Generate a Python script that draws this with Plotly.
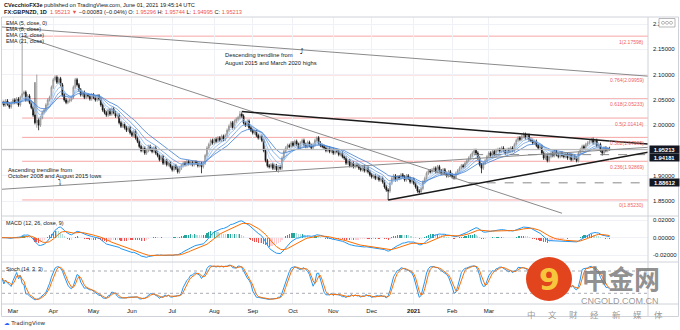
import numpy as np
import pandas as pd
import plotly.graph_objects as go

W, H = 680, 330


def px(x):
    return x / W


def py(y):
    return 1 - y / H


# ---------------------------------------------------------------- data
dates = pd.bdate_range("2020-02-21", "2021-06-01")

closes = [
    # Feb 2020
    2.045, 2.040, 2.048, 2.042, 2.036, 2.044,
    # Mar 2020
    2.050, 2.045, 2.052, 2.040, 2.055, 2.062, 2.065, 2.050, 2.058, 2.045,
    2.035, 2.020, 2.005, 2.010, 2.000, 2.015, 2.025, 2.030, 2.040, 2.050,
    2.055, 2.075,
    # Apr 2020
    2.090, 2.095, 2.085, 2.092, 2.080, 2.060, 2.050, 2.045, 2.048, 2.050,
    2.055, 2.075, 2.090, 2.080, 2.070, 2.060, 2.065, 2.055, 2.060, 2.058,
    2.052, 2.060,
    # May 2020
    2.055, 2.050, 2.058, 2.052, 2.040, 2.030, 2.025, 2.020, 2.030, 2.022,
    2.032, 2.025, 2.018, 2.020, 2.005, 1.998, 2.002, 1.995, 1.990, 1.995,
    1.985,
    # Jun 2020
    1.980, 1.988, 1.975, 1.968, 1.958, 1.950, 1.955, 1.945, 1.950, 1.958,
    1.952, 1.948, 1.955, 1.945, 1.940, 1.932, 1.938, 1.925, 1.930, 1.922,
    1.925, 1.918,
    # Jul 2020
    1.912, 1.920, 1.915, 1.908, 1.915, 1.920, 1.925, 1.922, 1.928, 1.924,
    1.926, 1.922, 1.927, 1.925, 1.920, 1.924, 1.918, 1.925, 1.940, 1.955,
    1.962, 1.970, 1.965,
    # Aug 2020
    1.972, 1.968, 1.975, 1.970, 1.978, 1.972, 1.980, 1.990, 1.998, 2.005,
    1.995, 2.008, 2.012, 2.015, 2.022, 2.018, 2.005, 2.000, 2.008, 1.995,
    1.990,
    # Sep 2020
    1.985, 1.988, 1.980, 1.975, 1.978, 1.970, 1.950, 1.930, 1.920, 1.918,
    1.922, 1.915, 1.920, 1.912, 1.918, 1.915, 1.935, 1.948, 1.955, 1.960,
    1.958, 1.965,
    # Oct 2020
    1.960, 1.968, 1.962, 1.955, 1.965, 1.970, 1.962, 1.958, 1.966, 1.960,
    1.955, 1.962, 1.970, 1.975, 1.965, 1.960, 1.958, 1.955, 1.950, 1.955,
    1.948, 1.952,
    # Nov 2020
    1.945, 1.950, 1.948, 1.942, 1.945, 1.938, 1.935, 1.925, 1.930, 1.920,
    1.925, 1.918, 1.922, 1.920, 1.915, 1.912, 1.918, 1.910, 1.915, 1.908,
    1.902,
    # Dec 2020
    1.898, 1.900, 1.895, 1.898, 1.892, 1.895, 1.888, 1.878, 1.872, 1.870,
    1.885, 1.895, 1.900, 1.892, 1.898, 1.895, 1.902, 1.898, 1.892, 1.900,
    1.895, 1.888, 1.893,
    # Jan 2021
    1.885, 1.878, 1.870, 1.868, 1.875, 1.888, 1.895, 1.905, 1.910, 1.908,
    1.912, 1.915, 1.908, 1.918, 1.910, 1.905, 1.912, 1.905, 1.900, 1.908,
    1.902,
    # Feb 2021
    1.898, 1.896, 1.905, 1.910, 1.915, 1.920, 1.918, 1.925, 1.930, 1.935,
    1.940, 1.945, 1.950, 1.945, 1.935, 1.922, 1.915, 1.925, 1.930, 1.938,
    # Mar 2021
    1.945, 1.940, 1.948, 1.942, 1.950, 1.952, 1.948, 1.955, 1.950, 1.945,
    1.952, 1.948, 1.955, 1.950, 1.962, 1.970, 1.975, 1.972, 1.978, 1.982,
    1.975, 1.980, 1.972,
    # Apr 2021
    1.970, 1.965, 1.968, 1.960, 1.955, 1.958, 1.945, 1.935, 1.940, 1.930,
    1.938, 1.945, 1.940, 1.948, 1.942, 1.938, 1.945, 1.940, 1.938, 1.942,
    1.935, 1.940,
    # May 2021
    1.932, 1.938, 1.935, 1.930, 1.945, 1.952, 1.958, 1.955, 1.962, 1.965,
    1.968, 1.972, 1.965, 1.970, 1.960, 1.962, 1.950, 1.945, 1.955, 1.950,
    1.95296,
    # Jun 2021
    1.95213,
]

first_open = 2.043
wick = 0.0035  # ordinary shadow beyond the candle body

# sessions whose shadows reach well past the body
high_marks = {
    "2020-03-09": 2.17598, "2020-03-18": 2.085, "2020-03-19": 2.100,
    "2020-08-21": 2.028, "2020-10-20": 1.978, "2021-03-26": 1.986,
    "2021-05-18": 1.975, "2021-06-01": 1.95744,
}
low_marks = {
    "2020-03-19": 1.995, "2020-03-20": 1.990, "2020-07-23": 1.905,
    "2020-09-21": 1.906, "2020-12-14": 1.85230, "2021-01-06": 1.865,
    "2021-02-23": 1.905, "2021-05-26": 1.940, "2021-06-01": 1.94995,
}

# chart drawings: (date, price) anchors
desc_long = [("2020-03-09", 2.1910), ("2021-06-01", 2.1027)]
asc_long = [("2020-03-09", 1.8760), ("2021-06-01", 1.9514)]
tri_upper = [("2020-08-24", 2.0270), ("2021-06-01", 1.9688)]
tri_lower = [("2020-12-14", 1.85230), ("2021-06-01", 1.9326)]
steep_line = [("2020-03-09", 2.17598), ("2021-04-26", 1.8260)]
level_lines = [("2021-02-17", 1.94181), ("2021-02-12", 1.88612)]
last_price = 1.95213

fib_ratios = [0, 0.236, 0.382, 0.5, 0.618, 0.764, 1]

# ---------------------------------------------------------------- series
close = np.array(closes, dtype=float)
assert len(close) == len(dates)
open_ = np.r_[first_open, close[:-1]]
high = np.maximum(open_, close) + wick
low = np.minimum(open_, close) - wick
pos = {d.strftime("%Y-%m-%d"): i for i, d in enumerate(dates)}
for d, v in high_marks.items():
    high[pos[d]] = v
for d, v in low_marks.items():
    low[pos[d]] = v

base = pos["2020-03-02"]
xs = np.arange(len(dates)) - base


def xo(d):
    return pos[d] - base


s_close = pd.Series(close)
emas = {n: s_close.ewm(span=n, adjust=False).mean() for n in (5, 8, 13, 21)}
macd = s_close.ewm(span=12, adjust=False).mean() - s_close.ewm(span=26, adjust=False).mean()
signal = macd.ewm(span=9, adjust=False).mean()
hist = macd - signal
hh = pd.Series(high).rolling(14, min_periods=1).max()
ll = pd.Series(low).rolling(14, min_periods=1).min()
k_raw = 100 * (s_close - ll) / (hh - ll)
stoch_k = k_raw.rolling(3, min_periods=1).mean()
stoch_d = stoch_k.rolling(3, min_periods=1).mean()

fib_low, fib_high = low.min(), high.max()
fib_start = xs[int(np.argmax(high))]

# ---------------------------------------------------------------- scales
X_LEFT, X_RIGHT = 2, 648
BAR0_PX, BAR_PX = 13, 1.83
x_range = [(X_LEFT - BAR0_PX) / BAR_PX, (X_RIGHT - BAR0_PX) / BAR_PX]

MAIN_TOP, MAIN_BOT, MACD_BOT, STO_BOT = 17, 216, 262, 304


def price_at(y):
    return 2.15 - (y - 49.3) / 506.0


def macd_at(y):
    return (237.7 - y) / 17.35 * 0.02


def stoch_at(y):
    return 80 - (y - 271.0) / (22.3 / 60)


# ---------------------------------------------------------------- traces
fig = go.Figure()
fig.add_trace(go.Candlestick(
    x=xs, open=open_, high=high, low=low, close=close,
    increasing=dict(line=dict(color="#8c8c8c", width=0.8), fillcolor="#d9d9d9"),
    decreasing=dict(line=dict(color="#111111", width=0.8), fillcolor="#111111"),
    whiskerwidth=0, hoverinfo="skip", showlegend=False, xaxis="x", yaxis="y"))

ema_colors = {5: "#a8cbf3", 8: "#86b4ec", 13: "#6299e0", 21: "#3f7dd3"}
for n, s in emas.items():
    fig.add_trace(go.Scatter(x=xs, y=s, mode="lines", line=dict(color=ema_colors[n], width=0.8),
                             hoverinfo="skip", showlegend=False, xaxis="x", yaxis="y"))

hist_colors = []
prev = 0.0
for v in hist:
    if v >= 0:
        hist_colors.append("#26a69a" if v >= prev else "#b2dfdb")
    else:
        hist_colors.append("#ffcdd2" if v >= prev else "#ef5350")
    prev = v
fig.add_trace(go.Bar(x=xs, y=hist, marker=dict(color=hist_colors, line=dict(width=0)), width=0.6,
                     hoverinfo="skip", showlegend=False, xaxis="x2", yaxis="y2"))
fig.add_trace(go.Scatter(x=xs, y=macd, mode="lines", line=dict(color="#2196f3", width=1),
                         hoverinfo="skip", showlegend=False, xaxis="x2", yaxis="y2"))
fig.add_trace(go.Scatter(x=xs, y=signal, mode="lines", line=dict(color="#ff6d00", width=1),
                         hoverinfo="skip", showlegend=False, xaxis="x2", yaxis="y2"))

fig.add_trace(go.Scatter(x=xs, y=stoch_k, mode="lines", line=dict(color="#2196f3", width=1),
                         hoverinfo="skip", showlegend=False, xaxis="x3", yaxis="y3"))
fig.add_trace(go.Scatter(x=xs, y=stoch_d, mode="lines", line=dict(color="#ff6d00", width=1),
                         hoverinfo="skip", showlegend=False, xaxis="x3", yaxis="y3"))

# ---------------------------------------------------------------- axes
month_pos, month_txt = [], []
for (yr, mo), grp in pd.Series(range(len(dates)), index=dates).groupby([dates.year, dates.month]):
    if (yr, mo) < (2020, 3) or (yr, mo) > (2021, 3):
        continue
    month_pos.append(int(grp.iloc[0]) - base)
    month_txt.append("<b>2021</b>" if (yr, mo) == (2021, 1) else pd.Timestamp(yr, mo, 1).strftime("%b"))

grid = "#eff1f6"
font = "Liberation Sans, Arial, sans-serif"
xcommon = dict(domain=[px(X_LEFT), px(X_RIGHT)], range=x_range, tickvals=month_pos,
               showgrid=True, gridcolor=grid, gridwidth=1, zeroline=False, showline=False,
               ticks="", fixedrange=True)

price_ticks = [1.85, 1.90, 1.95, 2.00, 2.05, 2.10, 2.15, 2.20]
fig.update_layout(
    width=W, height=H, autosize=False,
    margin=dict(l=0, r=0, t=0, b=0),
    paper_bgcolor="white", plot_bgcolor="white",
    font=dict(family=font, size=6, color="#131722"),
    showlegend=False, bargap=0,
    xaxis=dict(**xcommon, anchor="y", showticklabels=False, rangeslider=dict(visible=False)),
    xaxis2=dict(**xcommon, anchor="y2", matches="x", showticklabels=False),
    xaxis3=dict(**xcommon, anchor="y3", matches="x", ticktext=month_txt,
                tickfont=dict(size=6, color="#131722"), ticklabelstandoff=2),
    yaxis=dict(domain=[py(MAIN_BOT), py(MAIN_TOP)], range=[price_at(MAIN_BOT), price_at(MAIN_TOP)],
               side="right", anchor="x", tickvals=price_ticks,
               ticktext=[f"{v:.5f}" for v in price_ticks], tickfont=dict(size=6),
               showgrid=True, gridcolor=grid, zeroline=False, showline=False, ticks="",
               ticklabelstandoff=4, fixedrange=True),
    yaxis2=dict(domain=[py(MACD_BOT), py(MAIN_BOT)], range=[macd_at(MACD_BOT), macd_at(MAIN_BOT)],
                side="right", anchor="x2", tickvals=[-0.02, 0, 0.02],
                ticktext=["-0.02000", "0.00000", "0.02000"], tickfont=dict(size=6),
                showgrid=True, gridcolor=grid, zeroline=False, showline=False, ticks="",
                ticklabelstandoff=4, fixedrange=True),
    yaxis3=dict(domain=[py(STO_BOT), py(MACD_BOT)], range=[stoch_at(STO_BOT), stoch_at(MACD_BOT)],
                side="right", anchor="x3", showticklabels=False, showgrid=False,
                zeroline=False, showline=False, ticks="", fixedrange=True),
)

# ---------------------------------------------------------------- drawings
shapes = []


def seg(p0, p1, color, width, dash="solid", extend=False, ref=("x", "y")):
    x0, y0 = xo(p0[0]), p0[1]
    x1, y1 = xo(p1[0]), p1[1]
    if extend:
        slope = (y1 - y0) / (x1 - x0)
        xa, xb = x_range
        y0, y1 = y0 + slope * (xa - x0), y0 + slope * (xb - x0)
        x0, x1 = xa, xb
    shapes.append(dict(type="line", xref=ref[0], yref=ref[1], x0=x0, y0=y0, x1=x1, y1=y1,
                       line=dict(color=color, width=width, dash=dash), layer="above"))


fib_levels = [(r, fib_low + r * (fib_high - fib_low)) for r in fib_ratios]
for r, lv in fib_levels:
    shapes.append(dict(type="line", xref="x", yref="y", x0=fib_start, x1=x_range[1], y0=lv, y1=lv,
                       line=dict(color="#f6a5a5", width=1), layer="below"))

shapes.append(dict(type="line", xref="x", yref="y", x0=x_range[0], x1=x_range[1],
                   y0=last_price, y1=last_price, line=dict(color="#b5b5b5", width=1)))
for d, lv in level_lines:
    shapes.append(dict(type="line", xref="x", yref="y", x0=xo(d), x1=x_range[1], y0=lv, y1=lv,
                       line=dict(color="#6b6b6b", width=0.8, dash="dash")))

seg(*desc_long, "#8a8a8a", 1, extend=True)
seg(*asc_long, "#8a8a8a", 1, extend=True)
seg(*steep_line, "#8a8a8a", 1)
seg(tri_upper[0], tri_upper[1], "#1a1a1a", 1.5)
seg(tri_lower[0], tri_lower[1], "#1a1a1a", 1.5)
# carry the triangle to the price scale
for a, b in (tri_upper, tri_lower):
    slope = (b[1] - a[1]) / (xo(b[0]) - xo(a[0]))
    shapes.append(dict(type="line", xref="x", yref="y", x0=xo(b[0]), y0=b[1], x1=x_range[1],
                       y1=b[1] + slope * (x_range[1] - xo(b[0])),
                       line=dict(color="#1a1a1a", width=1.5)))

for lv in (20, 80):
    shapes.append(dict(type="line", xref="x3", yref="y3", x0=x_range[0], x1=x_range[1], y0=lv, y1=lv,
                       line=dict(color="#9598a1", width=0.8, dash="dot")))

frame = "#cfd2d9"
shapes.append(dict(type="rect", xref="paper", yref="paper", x0=px(1.5), x1=px(678.5),
                   y0=py(316.5), y1=py(MAIN_TOP), line=dict(color=frame, width=1)))
shapes.append(dict(type="line", xref="paper", yref="paper", x0=px(X_RIGHT), x1=px(X_RIGHT),
                   y0=py(316.5), y1=py(MAIN_TOP), line=dict(color=frame, width=1)))
for yy in (MAIN_BOT, MACD_BOT, STO_BOT):
    shapes.append(dict(type="line", xref="paper", yref="paper", x0=px(1.5), x1=px(678.5),
                       y0=py(yy), y1=py(yy), line=dict(color=frame, width=1)))

# currency badge at the top of the price scale
shapes.append(dict(type="rect", xref="paper", yref="paper", x0=px(659), x1=px(675),
                   y0=py(27), y1=py(18.5), fillcolor="white",
                   line=dict(color="#9a9a9a", width=0.7), layer="above"))
for cx in (663, 667, 671):
    shapes.append(dict(type="circle", xref="paper", yref="paper", x0=px(cx - 1.5), x1=px(cx + 1.5),
                       y0=py(24.3), y1=py(21.3), line=dict(color="#8a8a8a", width=0.6),
                       layer="above"))

# watermark disc
shapes.append(dict(type="circle", xref="paper", yref="paper", x0=px(526), x1=px(572),
                   y0=py(301), y1=py(257), fillcolor="#e2451e", line=dict(width=0), layer="above"))

# ---------------------------------------------------------------- text
ann = []


def note(x, y, text, size=6, color="#131722", xanchor="left", yanchor="middle", family=font, **kw):
    ann.append(dict(x=px(x), y=py(y), xref="paper", yref="paper", text=text, showarrow=False,
                    xanchor=xanchor, yanchor=yanchor, font=dict(size=size, color=color, family=family),
                    borderpad=0, **kw))


red = "#ef5350"
note(3, 5, "<b>CVecchioFX3e</b> published on TradingView.com, June 01, 2021 19:45:14 UTC", size=5.6)
note(3, 12, f"<b>FX:GBPNZD, 1D</b>  <span style='color:{red}'>1.95213 ▼</span> −0.00083 (−0.04%) "
            f"O: <span style='color:{red}'>1.95296</span> H: <span style='color:{red}'>1.95744</span> "
            f"L: <span style='color:{red}'>1.94995</span> C: <span style='color:{red}'>1.95213</span>",
     size=5.6)

for i, lab in enumerate(["EMA (5, close, 0)", "EMA (8, close)", "EMA (13, close)", "EMA (21, close)"]):
    note(5, 23.3 + i * 6, lab, size=5.4)
note(5, 223, "MACD (12, 26, close, 9)", size=5.4)
note(5, 268.5, "Stoch (14, 3, 3)", size=5.4)

note(224, 55, "Descending trendline from", size=5.8)
note(224, 62.5, "August 2015 and March 2020 highs", size=5.8)
note(299, 52, "⤴", size=7, family="DejaVu Sans")
note(7, 170, "Ascending trendline from", size=5.8)
note(7, 176, "October 2008 and August 2015 lows", size=5.8)
note(57, 182, "⤵", size=7, family="DejaVu Sans")

for r, lv in fib_levels:
    ann.append(dict(x=px(646), y=lv, xref="paper", yref="y", text=f"{r:g}({lv:.5f})", showarrow=False,
                    xanchor="right", yanchor="top", yshift=-0.5,
                    font=dict(size=5, color="#f0625f", family=font)))

for lv, shift in ((last_price, 0), (level_lines[0][1], -2.5), (level_lines[1][1], 0)):
    ann.append(dict(x=px(649), y=lv, xref="paper", yref="y", text=f"<b>{lv:.5f}</b>", showarrow=False,
                    xanchor="left", yanchor="middle", yshift=shift, width=29, height=7,
                    bgcolor="#131722", font=dict(size=5.8, color="white", family=font), borderpad=0))

note(3, 323, "<span style='color:#2962ff'>☁</span> TradingView", size=5.6, color="#333",
     family="DejaVu Sans")

# watermark
note(549, 279, "<b>9</b>", size=30, color="#f8c63d", xanchor="center", family="DejaVu Sans")
note(621, 277.3, "<b>中金网</b>", size=26, color="rgba(125,125,125,0.85)", xanchor="center",
     family="Noto Sans CJK SC")
note(620, 301, "CNGOLD.COM.CN", size=9, color="rgba(140,140,140,0.9)", xanchor="center")
for i, ch in enumerate("中文财经新媒体"):
    note(531 + i * 21.3, 313.5, ch, size=8.5, color="rgba(140,140,140,0.9)", xanchor="center",
         family="Noto Sans CJK SC")

fig.update_layout(shapes=shapes, annotations=ann)
fig.write_html("out.html", include_plotlyjs=True, config=dict(displayModeBar=False, staticPlot=True))
